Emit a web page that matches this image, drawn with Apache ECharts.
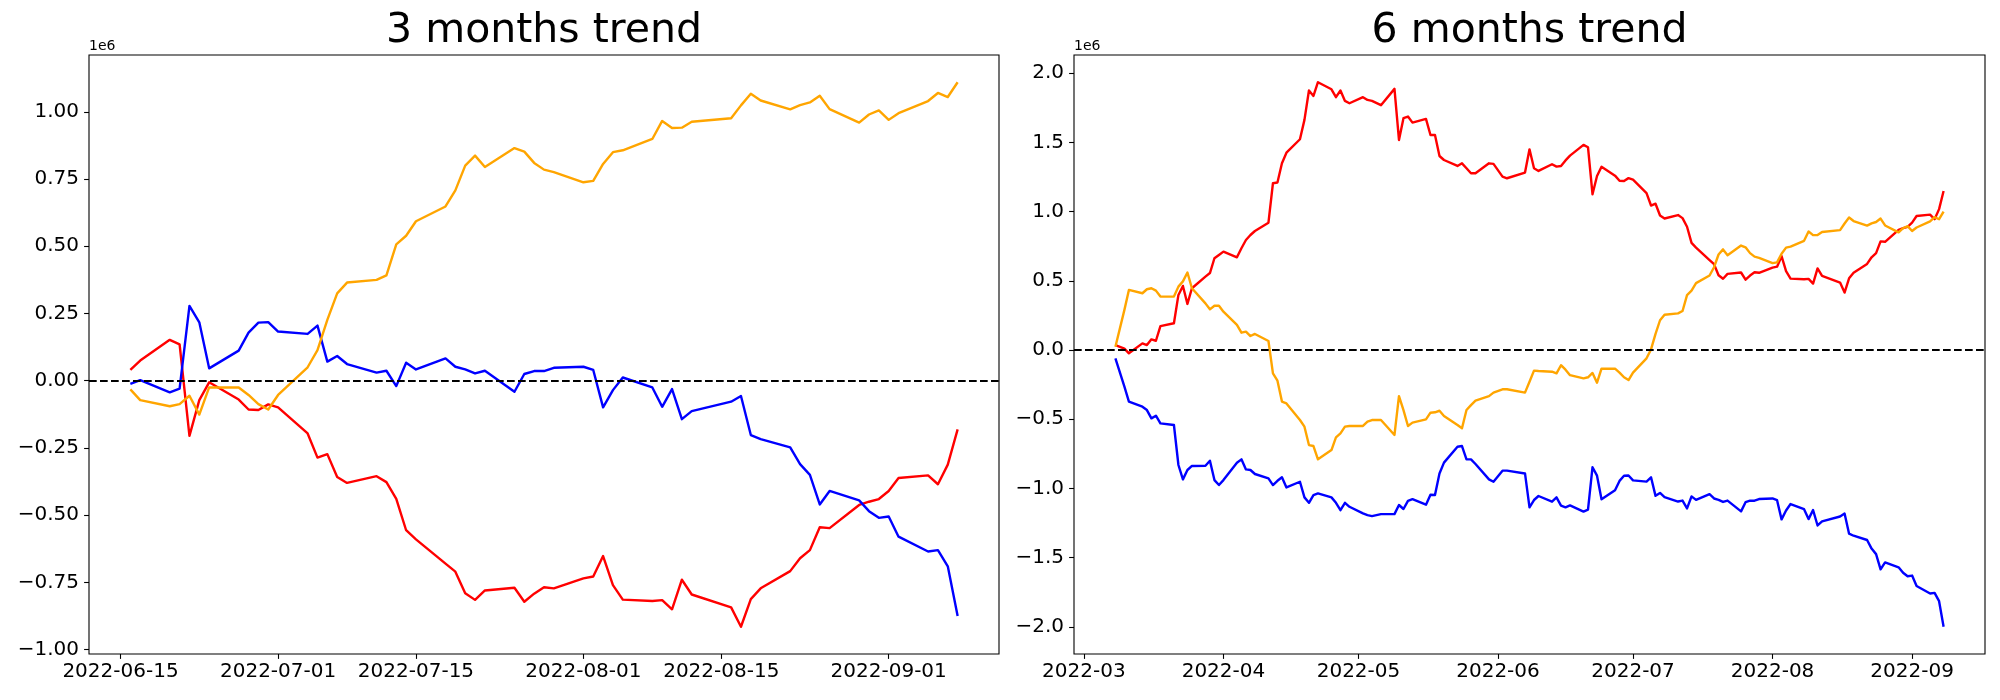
<!DOCTYPE html>
<html>
<head>
<meta charset="utf-8">
<script src="https://cdn.jsdelivr.net/npm/echarts@6/dist/echarts.min.js"></script>
<style>
html,body{margin:0;padding:0;background:#fff;}
#chart{width:2000px;height:700px;}
</style>
</head>
<body>
<div id="chart"></div>
<script>
// ---------- 3 months (values in units of 1e6) ----------
const dates3m = ['2022-06-16','2022-06-17','2022-06-20','2022-06-21','2022-06-22','2022-06-23','2022-06-24','2022-06-27','2022-06-28','2022-06-29','2022-06-30',
'2022-07-01','2022-07-04','2022-07-05','2022-07-06','2022-07-07','2022-07-08','2022-07-11','2022-07-12','2022-07-13','2022-07-14','2022-07-15','2022-07-18','2022-07-19','2022-07-20','2022-07-21','2022-07-22','2022-07-25','2022-07-26','2022-07-27','2022-07-28','2022-07-29',
'2022-08-01','2022-08-02','2022-08-03','2022-08-04','2022-08-05','2022-08-08','2022-08-09','2022-08-10','2022-08-11','2022-08-12','2022-08-16','2022-08-17','2022-08-18','2022-08-19','2022-08-22','2022-08-23','2022-08-24','2022-08-25','2022-08-26','2022-08-29','2022-08-30','2022-08-31',
'2022-09-01','2022-09-02','2022-09-05','2022-09-06','2022-09-07','2022-09-08'];
const red3m = [0.040,0.075,0.152,0.135,-0.205,-0.072,-0.006,-0.070,-0.107,-0.109,-0.088,
-0.099,-0.196,-0.286,-0.273,-0.358,-0.380,-0.355,-0.377,-0.439,-0.556,-0.590,-0.680,-0.710,-0.790,-0.815,-0.780,-0.770,-0.822,-0.792,-0.768,-0.772,
-0.735,-0.728,-0.652,-0.760,-0.814,-0.819,-0.816,-0.850,-0.740,-0.795,-0.843,-0.915,-0.812,-0.772,-0.708,-0.660,-0.630,-0.545,-0.548,-0.462,-0.450,-0.440,
-0.410,-0.362,-0.352,-0.385,-0.312,-0.181];
const blue3m = [-0.012,0.002,-0.043,-0.029,0.278,0.217,0.046,0.112,0.179,0.216,0.218,
0.183,0.174,0.205,0.071,0.092,0.062,0.030,0.037,-0.020,0.067,0.042,0.083,0.052,0.042,0.027,0.037,-0.041,0.025,0.036,0.036,0.048,
0.052,0.040,-0.099,-0.035,0.012,-0.025,-0.097,-0.031,-0.143,-0.113,-0.078,-0.057,-0.202,-0.217,-0.248,-0.310,-0.350,-0.460,-0.410,-0.445,-0.485,-0.510,
-0.505,-0.580,-0.635,-0.630,-0.690,-0.875];
const orange3m = [-0.032,-0.072,-0.095,-0.087,-0.056,-0.126,-0.025,-0.025,-0.053,-0.087,-0.107,
-0.053,0.050,0.114,0.226,0.325,0.365,0.375,0.392,0.507,0.539,0.593,0.648,0.708,0.800,0.837,0.795,0.865,0.852,0.810,0.785,0.776,
0.738,0.743,0.806,0.850,0.857,0.899,0.966,0.940,0.941,0.963,0.976,1.024,1.067,1.042,1.009,1.025,1.035,1.060,1.010,0.960,0.990,1.005,
0.970,0.995,1.040,1.070,1.055,1.110];

// ---------- 6 months (values in units of 1e6) ----------
const dates6m = ['2022-03-08','2022-03-10','2022-03-11','2022-03-14','2022-03-15','2022-03-16','2022-03-17','2022-03-18','2022-03-21','2022-03-22','2022-03-23','2022-03-24','2022-03-25','2022-03-28','2022-03-29','2022-03-30','2022-03-31',
'2022-04-01','2022-04-04','2022-04-05','2022-04-06','2022-04-07','2022-04-08','2022-04-11','2022-04-12','2022-04-13','2022-04-14','2022-04-15','2022-04-18','2022-04-19','2022-04-20','2022-04-21','2022-04-22','2022-04-25','2022-04-26','2022-04-27','2022-04-28','2022-04-29',
'2022-05-02','2022-05-03','2022-05-04','2022-05-06','2022-05-09','2022-05-10','2022-05-11','2022-05-12','2022-05-13','2022-05-16','2022-05-17','2022-05-18','2022-05-19','2022-05-20','2022-05-23','2022-05-24','2022-05-25','2022-05-26','2022-05-27','2022-05-30','2022-05-31',
'2022-06-02','2022-06-03','2022-06-07','2022-06-08','2022-06-09','2022-06-10','2022-06-13','2022-06-14','2022-06-15',
'2022-06-16','2022-06-17','2022-06-20','2022-06-21','2022-06-22','2022-06-23','2022-06-24','2022-06-27','2022-06-28','2022-06-29','2022-06-30',
'2022-07-01','2022-07-04','2022-07-05','2022-07-06','2022-07-07','2022-07-08','2022-07-11','2022-07-12','2022-07-13','2022-07-14','2022-07-15','2022-07-18','2022-07-19','2022-07-20','2022-07-21','2022-07-22','2022-07-25','2022-07-26','2022-07-27','2022-07-28','2022-07-29',
'2022-08-01','2022-08-02','2022-08-03','2022-08-04','2022-08-05','2022-08-08','2022-08-09','2022-08-10','2022-08-11','2022-08-12','2022-08-16','2022-08-17','2022-08-18','2022-08-19','2022-08-22','2022-08-23','2022-08-24','2022-08-25','2022-08-26','2022-08-29','2022-08-30','2022-08-31',
'2022-09-01','2022-09-02','2022-09-05','2022-09-06','2022-09-07','2022-09-08'];
const red6m = [0.036,0.010,-0.024,0.048,0.036,0.077,0.067,0.173,0.193,0.398,0.463,0.333,0.446,0.530,0.556,0.663,0.687,
0.711,0.670,0.735,0.795,0.831,0.860,0.920,1.205,1.210,1.349,1.426,1.523,1.663,1.875,1.836,1.935,1.884,1.827,1.875,1.800,1.783,
1.827,1.807,1.800,1.769,1.887,1.518,1.675,1.687,1.643,1.670,1.554,1.554,1.402,1.373,1.330,1.349,1.313,1.277,1.277,1.349,1.345,
1.253,1.241,1.282,1.450,1.313,1.294,1.342,1.325,1.330,
1.370,1.405,1.482,1.465,1.125,1.258,1.324,1.260,1.223,1.221,1.242,
1.231,1.134,1.044,1.057,0.972,0.950,0.975,0.953,0.891,0.774,0.740,0.650,0.620,0.540,0.515,0.550,0.560,0.508,0.538,0.562,0.558,
0.595,0.602,0.678,0.570,0.516,0.511,0.514,0.480,0.590,0.535,0.487,0.415,0.518,0.558,0.622,0.670,0.700,0.785,0.782,0.868,0.880,0.890,
0.920,0.968,0.978,0.945,1.018,1.149];
const blue6m = [-0.060,-0.265,-0.373,-0.410,-0.434,-0.494,-0.475,-0.530,-0.542,-0.831,-0.935,-0.867,-0.838,-0.836,-0.800,-0.940,-0.976,
-0.940,-0.815,-0.790,-0.863,-0.867,-0.896,-0.928,-0.976,-0.945,-0.920,-0.993,-0.952,-1.065,-1.104,-1.048,-1.036,-1.065,-1.104,-1.157,-1.104,-1.133,
-1.181,-1.193,-1.200,-1.186,-1.186,-1.120,-1.149,-1.090,-1.078,-1.118,-1.046,-1.048,-0.892,-0.814,-0.699,-0.694,-0.790,-0.790,-0.824,-0.935,-0.952,
-0.872,-0.872,-0.892,-1.137,-1.084,-1.055,-1.096,-1.065,-1.125,
-1.137,-1.123,-1.168,-1.154,-0.847,-0.908,-1.079,-1.013,-0.946,-0.909,-0.907,
-0.942,-0.951,-0.920,-1.054,-1.033,-1.063,-1.095,-1.088,-1.145,-1.058,-1.083,-1.042,-1.073,-1.083,-1.098,-1.088,-1.166,-1.100,-1.089,-1.089,-1.077,
-1.073,-1.085,-1.224,-1.160,-1.113,-1.150,-1.222,-1.156,-1.268,-1.238,-1.203,-1.182,-1.327,-1.342,-1.373,-1.435,-1.475,-1.585,-1.535,-1.570,-1.610,-1.635,
-1.630,-1.705,-1.760,-1.755,-1.815,-2.000];
const orange6m = [0.024,0.290,0.434,0.410,0.439,0.446,0.429,0.386,0.386,0.458,0.496,0.560,0.446,0.337,0.294,0.320,0.320,
0.277,0.181,0.125,0.133,0.101,0.116,0.065,-0.169,-0.222,-0.373,-0.386,-0.506,-0.554,-0.687,-0.694,-0.790,-0.723,-0.631,-0.602,-0.554,-0.549,
-0.549,-0.518,-0.506,-0.506,-0.614,-0.333,-0.434,-0.549,-0.525,-0.501,-0.453,-0.450,-0.439,-0.477,-0.542,-0.566,-0.434,-0.398,-0.366,-0.333,-0.308,
-0.284,-0.284,-0.308,-0.229,-0.149,-0.152,-0.157,-0.169,-0.110,
-0.142,-0.182,-0.205,-0.197,-0.166,-0.236,-0.135,-0.135,-0.163,-0.197,-0.217,
-0.163,-0.060,0.004,0.116,0.215,0.255,0.265,0.282,0.397,0.429,0.483,0.538,0.598,0.690,0.727,0.685,0.755,0.742,0.700,0.675,0.666,
0.628,0.633,0.696,0.740,0.747,0.789,0.856,0.830,0.831,0.853,0.866,0.914,0.957,0.932,0.899,0.915,0.925,0.950,0.900,0.850,0.880,0.895,
0.860,0.885,0.930,0.960,0.945,1.000];

// ---------- tick labels ----------
const xTicks3m = ['2022-06-15','2022-07-01','2022-07-15','2022-08-01','2022-08-15','2022-09-01'];
const xTicks6m = ['2022-03-01','2022-04-01','2022-05-01','2022-06-01','2022-07-01','2022-08-01','2022-09-01'];
const yTicks3m = [-1.00,-0.75,-0.50,-0.25,0.00,0.25,0.50,0.75,1.00];
const yTicks6m = [-2.0,-1.5,-1.0,-0.5,0.0,0.5,1.0,1.5,2.0];
const titles = ['3 months trend','6 months trend'];
const offsetLabel = '1e6';

// ---------- helpers ----------
const toMs = s => { const p = s.split('-').map(Number); return Date.UTC(p[0], p[1]-1, p[2]); };
const pad2 = n => (n < 10 ? '0' : '') + n;
const fmtDay = ms => { const d = new Date(ms); return d.getUTCFullYear()+'-'+pad2(d.getUTCMonth()+1)+'-'+pad2(d.getUTCDate()); };
const fmtMonth = ms => { const d = new Date(ms); return d.getUTCFullYear()+'-'+pad2(d.getUTCMonth()+1); };
const fmtNum = dec => v => (v < -1e-9 ? '\u2212' : '') + Math.abs(v).toFixed(dec);
const pairs = (dates, vals) => dates.map((d, i) => [toMs(d), vals[i]]);
function yRange(arrs){ let mn=Infinity,mx=-Infinity; arrs.forEach(a=>a.forEach(v=>{if(v<mn)mn=v;if(v>mx)mx=v;})); const p=(mx-mn)*0.05; return [mn-p,mx+p]; }
function xRange(dates){ const a=toMs(dates[0]), b=toMs(dates[dates.length-1]); const p=(b-a)*0.05; return [a-p,b+p]; }

const FONT = '"DejaVu Sans", "Liberation Sans", sans-serif';
const LW = 2.4;
const grids = [
  {left: 89, top: 55, width: 910, height: 599},
  {left: 1074, top: 55, width: 911, height: 599}
];

const xr3 = xRange(dates3m), xr6 = xRange(dates6m);
const yr3 = yRange([red3m, blue3m, orange3m]), yr6 = yRange([red6m, blue6m, orange6m]);

function xAxisCfg(idx, r, ticks, fmt){
  const vals = ticks.map(toMs);
  return {
    type: 'value', gridIndex: idx, min: r[0], max: r[1], scale: true, position: 'bottom',
    axisLine: {show: false, onZero: false},
    splitLine: {show: false},
    axisTick: {show: true, inside: false, length: 4.9, lineStyle: {color: '#000', width: 1.1}, customValues: vals},
    axisLabel: {show: true, margin: 8, fontSize: 20, color: '#000', fontFamily: FONT, customValues: vals, formatter: v => fmt(v)}
  };
}
function yAxisCfg(idx, r, ticks, dec){
  return {
    type: 'value', gridIndex: idx, min: r[0], max: r[1], scale: true, position: 'left',
    axisLine: {show: false, onZero: false},
    splitLine: {show: false},
    axisTick: {show: true, inside: false, length: 4.9, lineStyle: {color: '#000', width: 1.1}, customValues: ticks},
    axisLabel: {show: true, margin: 10, fontSize: 20, color: '#000', fontFamily: FONT, customValues: ticks, formatter: fmtNum(dec)}
  };
}
function lineSeries(idx, dates, vals, color, z, withZero){
  const s = {
    type: 'line', xAxisIndex: idx, yAxisIndex: idx, data: pairs(dates, vals),
    showSymbol: false, symbol: 'none', smooth: false, z: z,
    lineStyle: {color: color, width: LW, join: 'round'},
    itemStyle: {color: color}, silent: true
  };
  if (withZero) {
    s.markLine = {
      silent: true, symbol: ['none','none'], label: {show: false},
      lineStyle: {color: '#000', width: 2.1, type: [7.7, 3.3]},
      data: [{yAxis: 0}], animation: false
    };
  }
  return s;
}

const chart = echarts.init(document.getElementById('chart'), null, {renderer: 'canvas'});
chart.setOption({
  backgroundColor: '#fff',
  animation: false,
  textStyle: {fontFamily: FONT},
  grid: grids.map(g => Object.assign({show: true, borderColor: '#000', borderWidth: 1.1, backgroundColor: 'transparent', containLabel: false, outerBoundsMode: 'none'}, g)),
  xAxis: [xAxisCfg(0, xr3, xTicks3m, fmtDay), xAxisCfg(1, xr6, xTicks6m, fmtMonth)],
  yAxis: [yAxisCfg(0, yr3, yTicks3m, 2), yAxisCfg(1, yr6, yTicks6m, 1)],
  series: [
    lineSeries(0, dates3m, red3m, '#ff0000', 2, false),
    lineSeries(0, dates3m, blue3m, '#0000ff', 3, false),
    lineSeries(0, dates3m, orange3m, '#ffa500', 4, true),
    lineSeries(1, dates6m, red6m, '#ff0000', 2, false),
    lineSeries(1, dates6m, blue6m, '#0000ff', 3, false),
    lineSeries(1, dates6m, orange6m, '#ffa500', 4, true)
  ],
  graphic: [
    {type: 'text', x: grids[0].left + grids[0].width/2, y: 31, style: {text: titles[0], font: '41px ' + FONT, fill: '#000', align: 'center', verticalAlign: 'middle'}},
    {type: 'text', x: grids[1].left + grids[1].width/2, y: 31, style: {text: titles[1], font: '41px ' + FONT, fill: '#000', align: 'center', verticalAlign: 'middle'}},
    {type: 'text', x: grids[0].left, y: 53, style: {text: offsetLabel, font: '14px ' + FONT, fill: '#000', align: 'left', verticalAlign: 'bottom'}},
    {type: 'text', x: grids[1].left, y: 53, style: {text: offsetLabel, font: '14px ' + FONT, fill: '#000', align: 'left', verticalAlign: 'bottom'}}
  ]
});
</script>
</body>
</html>
